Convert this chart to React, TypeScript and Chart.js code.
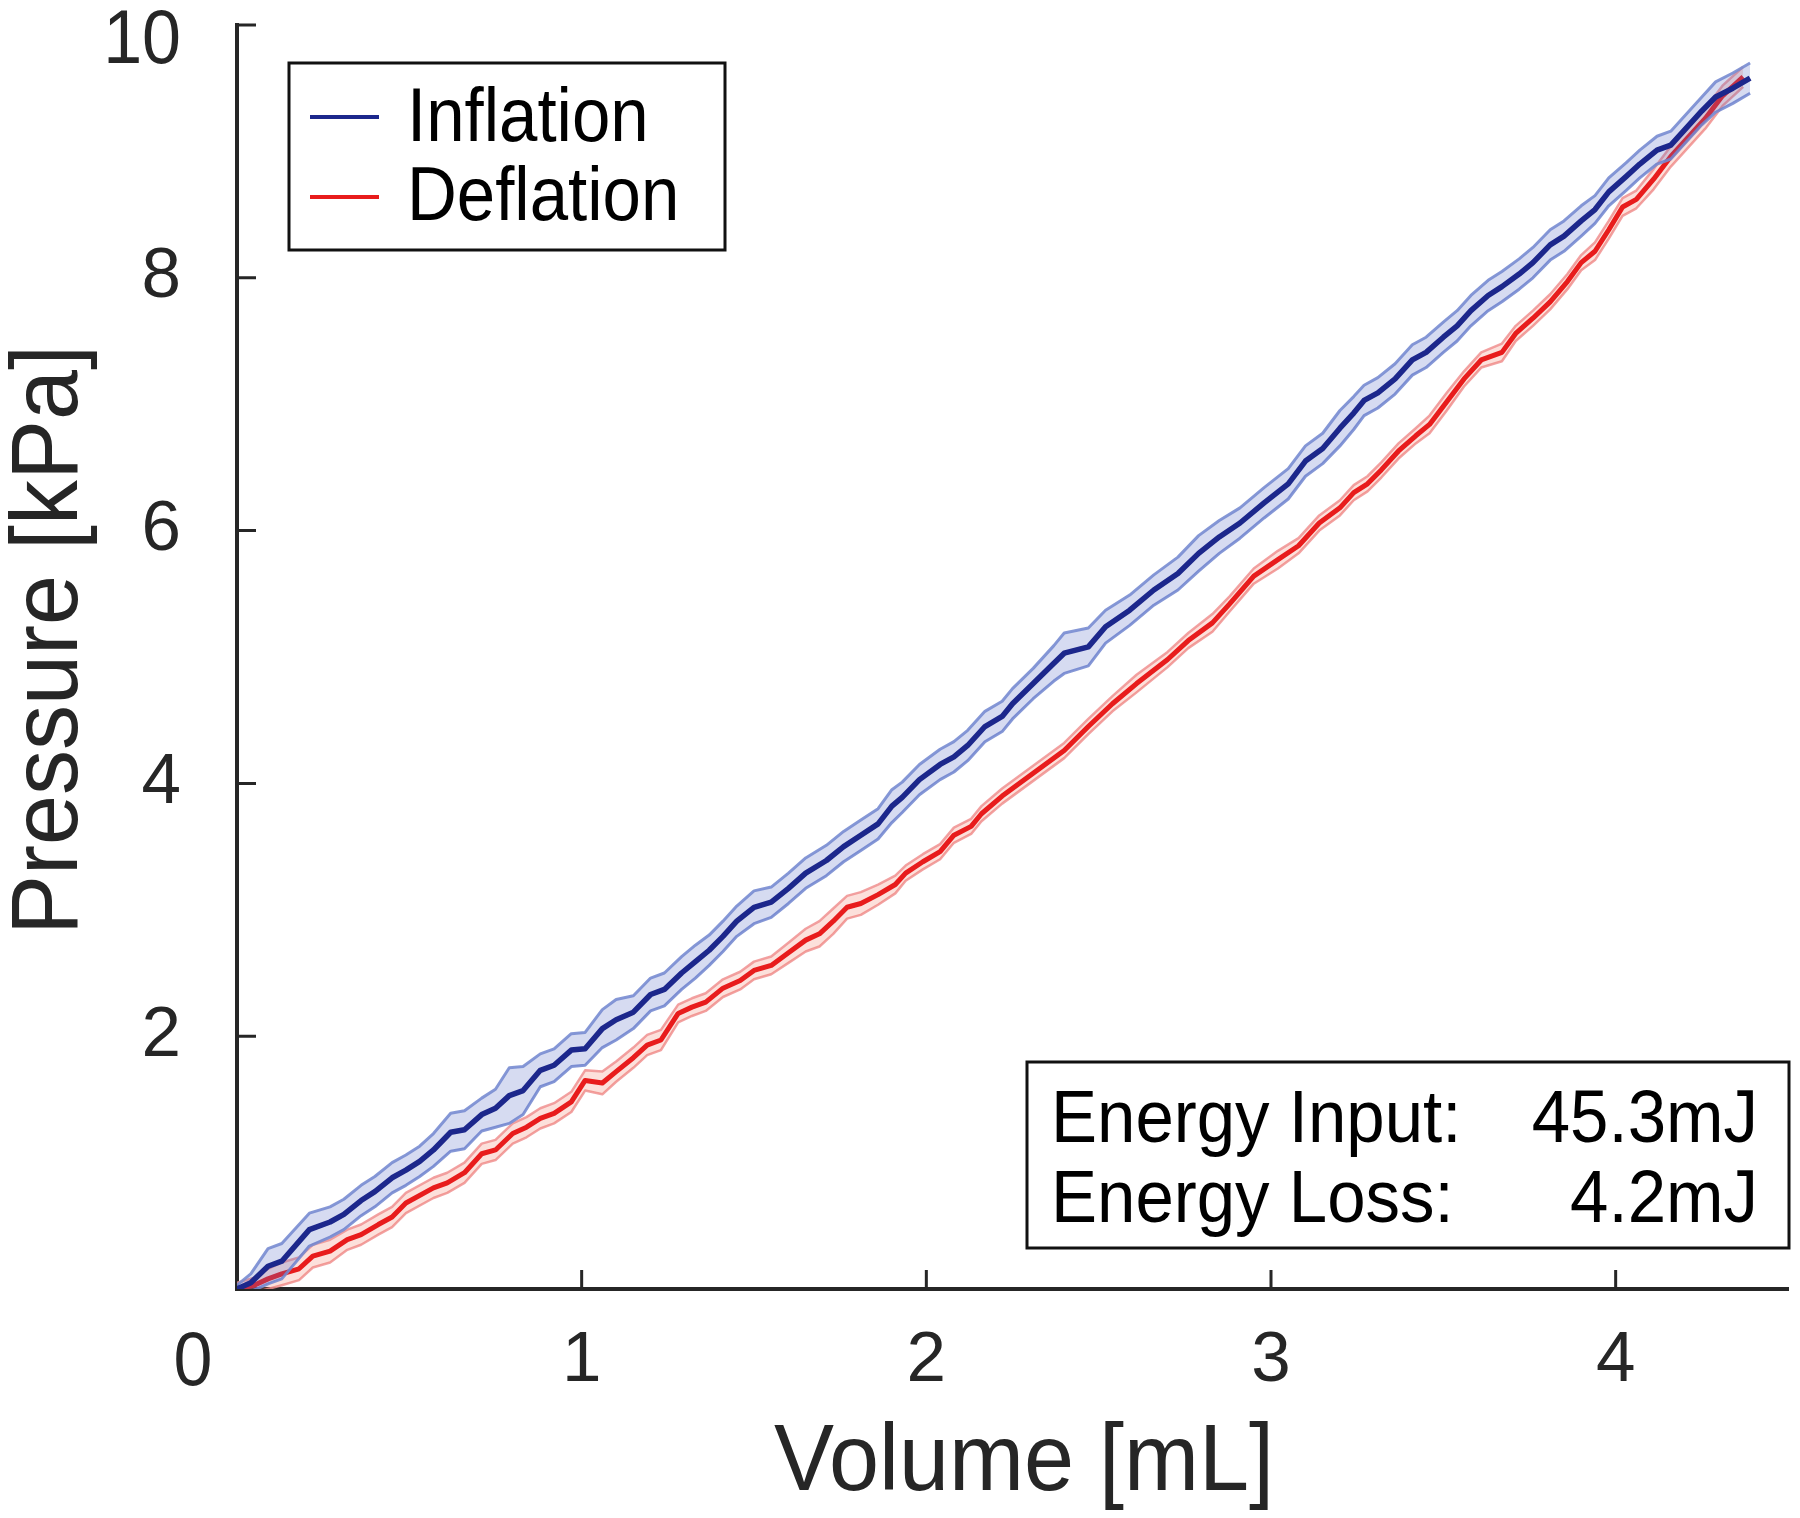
import React, { useEffect, useRef } from "react";
import { Chart, registerables } from "chart.js";

Chart.register(...registerables);

// ---------- data ----------
const inflationVolume = [
  0.0, 0.04, 0.09, 0.13, 0.21, 0.27, 0.31, 0.36, 0.4, 0.45, 0.49, 0.53, 0.57, 0.62, 0.66, 0.71, 0.75, 0.79, 0.83, 0.88,
  0.92, 0.97, 1.01, 1.06, 1.1, 1.15, 1.2, 1.24, 1.29, 1.33, 1.37, 1.41, 1.45, 1.5, 1.55, 1.6, 1.65, 1.71, 1.76, 1.81,
  1.86, 1.9, 1.93, 1.98, 2.04, 2.08, 2.12, 2.17, 2.22, 2.25, 2.31, 2.37, 2.4, 2.47, 2.52, 2.59, 2.66, 2.73, 2.79, 2.85,
  2.91, 2.98, 3.05, 3.1, 3.15, 3.2, 3.24, 3.27, 3.31, 3.36, 3.41, 3.45, 3.5, 3.54, 3.58, 3.63, 3.67, 3.72, 3.76, 3.81,
  3.85, 3.9, 3.94, 3.98, 4.03, 4.07, 4.12, 4.16, 4.2, 4.25, 4.29, 4.34, 4.39,
];
const inflationPressure = [
  0.0, 0.05, 0.18, 0.22, 0.47, 0.53, 0.59, 0.7, 0.77, 0.88, 0.94, 1.01, 1.1, 1.24, 1.26, 1.38, 1.43, 1.53, 1.57, 1.73,
  1.77, 1.89, 1.9, 2.06, 2.13, 2.19, 2.33, 2.37, 2.5, 2.59, 2.68, 2.79, 2.91, 3.02, 3.06, 3.17, 3.29, 3.39, 3.5, 3.59,
  3.68, 3.82, 3.89, 4.03, 4.15, 4.21, 4.3, 4.45, 4.53, 4.63, 4.79, 4.95, 5.03, 5.08, 5.24, 5.37, 5.53, 5.66, 5.82, 5.95,
  6.06, 6.22, 6.37, 6.55, 6.65, 6.81, 6.93, 7.03, 7.09, 7.2, 7.35, 7.41, 7.53, 7.62, 7.74, 7.86, 7.93, 8.03, 8.12, 8.26,
  8.33, 8.45, 8.54, 8.68, 8.8, 8.9, 9.01, 9.05, 9.17, 9.32, 9.43, 9.5, 9.58,
];
const inflationSpread = [
  0.03, 0.07, 0.14, 0.14, 0.13, 0.12, 0.12, 0.12, 0.12, 0.12, 0.12, 0.12, 0.13, 0.15, 0.15, 0.13, 0.15, 0.22, 0.19, 0.13,
  0.13, 0.13, 0.13, 0.15, 0.16, 0.13, 0.13, 0.13, 0.13, 0.13, 0.12, 0.12, 0.12, 0.13, 0.12, 0.12, 0.12, 0.12, 0.12, 0.12,
  0.12, 0.13, 0.12, 0.12, 0.12, 0.12, 0.12, 0.12, 0.12, 0.12, 0.12, 0.14, 0.16, 0.15, 0.13, 0.12, 0.12, 0.13, 0.14, 0.13,
  0.12, 0.12, 0.12, 0.12, 0.12, 0.14, 0.13, 0.12, 0.12, 0.12, 0.12, 0.12, 0.12, 0.12, 0.12, 0.12, 0.12, 0.12, 0.12, 0.12,
  0.12, 0.12, 0.11, 0.11, 0.11, 0.11, 0.11, 0.11, 0.11, 0.11, 0.12, 0.12, 0.12,
];

const deflationVolume = [
  0.0, 0.05, 0.09, 0.13, 0.18, 0.22, 0.27, 0.32, 0.36, 0.41, 0.45, 0.49, 0.57, 0.61, 0.66, 0.71, 0.75, 0.8, 0.84, 0.88,
  0.92, 0.97, 1.01, 1.06, 1.1, 1.15, 1.19, 1.23, 1.28, 1.32, 1.36, 1.41, 1.46, 1.5, 1.55, 1.6, 1.65, 1.69, 1.73, 1.77,
  1.81, 1.86, 1.91, 1.94, 1.99, 2.04, 2.08, 2.13, 2.16, 2.22, 2.31, 2.4, 2.47, 2.54, 2.61, 2.7, 2.76, 2.83, 2.88, 2.95,
  3.02, 3.08, 3.14, 3.2, 3.24, 3.28, 3.32, 3.37, 3.42, 3.46, 3.51, 3.56, 3.61, 3.67, 3.71, 3.76, 3.81, 3.86, 3.9, 3.94,
  3.98, 4.02, 4.06, 4.11, 4.16, 4.21, 4.26, 4.31, 4.37,
];
const deflationPressure = [
  0.0, 0.03, 0.08, 0.12, 0.16, 0.26, 0.3, 0.39, 0.43, 0.51, 0.57, 0.68, 0.8, 0.84, 0.92, 1.07, 1.1, 1.23, 1.28, 1.35,
  1.39, 1.48, 1.65, 1.63, 1.72, 1.83, 1.93, 1.97, 2.18, 2.23, 2.27, 2.38, 2.44, 2.52, 2.56, 2.66, 2.76, 2.81, 2.91, 3.02,
  3.05, 3.12, 3.2, 3.29, 3.38, 3.46, 3.59, 3.66, 3.76, 3.9, 4.08, 4.26, 4.45, 4.63, 4.79, 4.98, 5.13, 5.27, 5.42, 5.64,
  5.77, 5.88, 6.06, 6.18, 6.3, 6.37, 6.48, 6.63, 6.75, 6.84, 7.02, 7.2, 7.35, 7.41, 7.56, 7.68, 7.81, 7.97, 8.12, 8.21,
  8.38, 8.56, 8.62, 8.78, 8.96, 9.11, 9.26, 9.44, 9.59,
];
const deflationSpread = [
  0.05, 0.06, 0.08, 0.09, 0.09, 0.09, 0.09, 0.08, 0.08, 0.08, 0.08, 0.08, 0.08, 0.08, 0.08, 0.08, 0.08, 0.08, 0.08, 0.08,
  0.08, 0.08, 0.08, 0.09, 0.08, 0.08, 0.08, 0.08, 0.07, 0.07, 0.07, 0.07, 0.07, 0.07, 0.07, 0.08, 0.09, 0.1, 0.1, 0.09,
  0.09, 0.08, 0.07, 0.06, 0.06, 0.06, 0.06, 0.06, 0.06, 0.06, 0.06, 0.06, 0.06, 0.06, 0.07, 0.06, 0.06, 0.07, 0.06, 0.06,
  0.07, 0.06, 0.06, 0.06, 0.06, 0.06, 0.06, 0.06, 0.06, 0.07, 0.07, 0.06, 0.06, 0.07, 0.06, 0.06, 0.06, 0.06, 0.06, 0.07,
  0.07, 0.07, 0.07, 0.08, 0.08, 0.08, 0.08, 0.08, 0.08,
];

const xTickValues = [0, 1, 2, 3, 4];
const yTickValues = [0, 2, 4, 6, 8, 10];
const seriesLabels = ["Inflation", "Deflation"];
const energyLabels = ["Energy Input:", "Energy Loss:"];
const energyValues = ["45.3mJ", "4.2mJ"];
const xTitle = "Volume [mL]";
const yTitle = "Pressure [kPa]";

// ---------- styles ----------
const FONT = '"Liberation Sans", Arial, Helvetica, sans-serif';
const AXIS = "#262626";
const BLUE = "#1c278c";
const RED = "#e81c1c";

const linePts = (xs: number[], ys: number[]) => xs.map((x, i) => ({ x, y: ys[i] }));
const bandPts = (xs: number[], ys: number[], sp: number[], sign: number) =>
  xs.map((x, i) => ({ x, y: ys[i] + sign * sp[i] }));

function textScaled(ctx: CanvasRenderingContext2D, s: string, x: number, y: number, sy: number) {
  ctx.save();
  ctx.translate(x, y);
  ctx.scale(1, sy);
  ctx.fillText(s, 0, 0);
  ctx.restore();
}

const overlay = {
  id: "overlay",
  afterDraw(chart: any) {
    const { ctx, chartArea, scales } = chart;
    const xs = scales.x;
    const ys = scales.y;
    ctx.save();

    // inner tick marks (MATLAB style)
    ctx.strokeStyle = AXIS;
    ctx.lineWidth = 3;
    ctx.beginPath();
    xTickValues.forEach((v) => {
      if (v === 0) return;
      const px = xs.getPixelForValue(v);
      ctx.moveTo(px, chartArea.bottom);
      ctx.lineTo(px, chartArea.bottom - 19);
    });
    yTickValues.forEach((v) => {
      if (v === 0) return;
      const py = ys.getPixelForValue(v);
      ctx.moveTo(chartArea.left, py);
      ctx.lineTo(chartArea.left + 19, py);
    });
    ctx.stroke();

    // origin label and top label
    ctx.fillStyle = AXIS;
    ctx.font = `70px ${FONT}`;
    ctx.textBaseline = "alphabetic";
    ctx.textAlign = "center";
    textScaled(ctx, String(xTickValues[0]), chartArea.left - 44, 1385, 1.08);
    ctx.textAlign = "right";
    textScaled(ctx, String(yTickValues[yTickValues.length - 1]), 181, 63, 1.08);

    // axis titles
    ctx.font = `90px ${FONT}`;
    ctx.textAlign = "center";
    textScaled(ctx, xTitle, 1024, 1490, 1.06);
    ctx.save();
    ctx.translate(77, 640);
    ctx.rotate(-Math.PI / 2);
    textScaled(ctx, yTitle, 0, 0, 1.06);
    ctx.restore();

    // legend box
    ctx.fillStyle = "#fff";
    ctx.fillRect(289, 63, 436, 187);
    ctx.strokeStyle = "#111";
    ctx.lineWidth = 3;
    ctx.strokeRect(289, 63, 436, 187);
    const legendColors = [BLUE, RED];
    const legendY = [117, 197];
    const legendBase = [141, 220];
    seriesLabels.forEach((lab, i) => {
      ctx.strokeStyle = legendColors[i];
      ctx.lineWidth = 4;
      ctx.beginPath();
      ctx.moveTo(310, legendY[i]);
      ctx.lineTo(379, legendY[i]);
      ctx.stroke();
      ctx.fillStyle = "#000";
      ctx.font = `69px ${FONT}`;
      ctx.textAlign = "left";
      textScaled(ctx, lab, 407, legendBase[i], 1.09);
    });

    // energy box
    ctx.fillStyle = "#fff";
    ctx.fillRect(1027, 1062, 762, 186);
    ctx.strokeStyle = "#111";
    ctx.lineWidth = 3;
    ctx.strokeRect(1027, 1062, 762, 186);
    ctx.fillStyle = "#000";
    ctx.font = `69px ${FONT}`;
    const eBase = [1142, 1222];
    energyLabels.forEach((lab, i) => {
      ctx.textAlign = "left";
      textScaled(ctx, lab, 1051, eBase[i], 1.07);
      ctx.textAlign = "right";
      textScaled(ctx, energyValues[i], 1758, eBase[i], 1.07);
    });

    ctx.restore();
  },
};

export default function App() {
  const ref = useRef<HTMLCanvasElement>(null);

  useEffect(() => {
    const canvas = ref.current;
    if (!canvas) return;
    const common = { pointRadius: 0, pointHoverRadius: 0, tension: 0, borderJoinStyle: "round" as const };
    const chart = new Chart(canvas, {
      type: "line",
      data: {
        datasets: [
          {
            ...common,
            label: "inflation-upper",
            data: bandPts(inflationVolume, inflationPressure, inflationSpread, 1),
            borderColor: "rgba(120,140,210,0.9)",
            borderWidth: 3,
            backgroundColor: "rgba(90,110,200,0.25)",
            fill: "+1",
            order: 2,
          },
          {
            ...common,
            label: "inflation-lower",
            data: bandPts(inflationVolume, inflationPressure, inflationSpread, -1),
            borderColor: "rgba(120,140,210,0.9)",
            borderWidth: 3,
            fill: false,
            order: 2,
          },
          {
            ...common,
            label: seriesLabels[0],
            data: linePts(inflationVolume, inflationPressure),
            borderColor: BLUE,
            borderWidth: 5.5,
            fill: false,
            order: 1,
          },
          {
            ...common,
            label: "deflation-upper",
            data: bandPts(deflationVolume, deflationPressure, deflationSpread, 1),
            borderColor: "rgba(240,145,145,0.85)",
            borderWidth: 2.5,
            backgroundColor: "rgba(240,120,100,0.23)",
            fill: "+1",
            order: 4,
          },
          {
            ...common,
            label: "deflation-lower",
            data: bandPts(deflationVolume, deflationPressure, deflationSpread, -1),
            borderColor: "rgba(240,145,145,0.85)",
            borderWidth: 2.5,
            fill: false,
            order: 4,
          },
          {
            ...common,
            label: seriesLabels[1],
            data: linePts(deflationVolume, deflationPressure),
            borderColor: RED,
            borderWidth: 5,
            fill: false,
            order: 3,
          },
        ],
      },
      options: {
        responsive: false,
        devicePixelRatio: 1,
        animation: false,
        events: [],
        layout: { padding: { left: 0, top: 25, right: 12, bottom: 0 } },
        plugins: {
          legend: { display: false },
          tooltip: { enabled: false },
        },
        scales: {
          x: {
            type: "linear",
            min: 0,
            max: 4.5,
            afterBuildTicks: (scale: any) => {
              scale.ticks = xTickValues.map((v) => ({ value: v }));
            },
            afterFit: (scale: any) => {
              scale.height = 229;
              scale.paddingLeft = 0;
              scale.paddingRight = 0;
            },
            grid: { display: false, drawTicks: false },
            border: { display: true, color: AXIS, width: 4 },
            ticks: {
              padding: 30,
              maxRotation: 0,
              autoSkip: false,
              color: AXIS,
              font: { family: FONT, size: 71 },
              callback: (v: any) => (v === 0 ? "" : String(v)),
            },
          },
          y: {
            type: "linear",
            min: 0,
            max: 10,
            afterBuildTicks: (scale: any) => {
              scale.ticks = yTickValues.map((v) => ({ value: v }));
            },
            afterFit: (scale: any) => {
              scale.width = 237;
              scale.paddingTop = 0;
              scale.paddingBottom = 0;
            },
            grid: { display: false, drawTicks: false },
            border: { display: true, color: AXIS, width: 4 },
            ticks: {
              padding: 56,
              autoSkip: false,
              color: AXIS,
              font: { family: FONT, size: 71 },
              callback: (v: any) => (v === 0 || v === 10 ? "" : String(v)),
            },
          },
        },
      },
      plugins: [overlay],
    });
    return () => chart.destroy();
  }, []);

  return (
    <div style={{ position: "absolute", left: 0, top: 0, width: 1800, height: 1518, background: "#fff" }}>
      <canvas ref={ref} width={1800} height={1518} style={{ display: "block", width: 1800, height: 1518 }} />
    </div>
  );
}
